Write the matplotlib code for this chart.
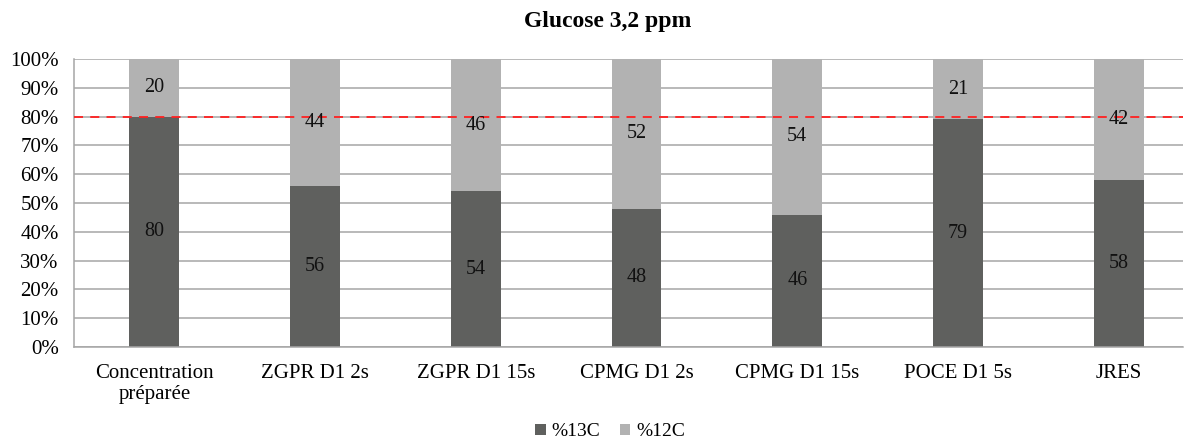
import matplotlib
matplotlib.use("Agg")
import matplotlib.pyplot as plt
import numpy as np

categories = ["Concentration\npréparée", "ZGPR D1 2s", "ZGPR D1 15s", "CPMG D1 2s",
              "CPMG D1 15s", "POCE D1 5s", "JRES"]
pct13C = [80, 56, 54, 48, 46, 79, 58]
pct12C = [20, 44, 46, 52, 54, 21, 42]
ref_line = 80

plt.rcParams['font.family'] = ['Liberation Serif', 'DejaVu Serif']

fig = plt.figure(figsize=(11.87, 4.42), dpi=100)
W, H = 1187, 442
left, right, top, bottom = 74, 1183, 59, 347
ax = fig.add_axes([left / W, 1 - bottom / H, (right - left) / W, (bottom - top) / H])

x = np.arange(len(categories))
c13 = "#5f605e"
c12 = "#b2b2b2"
bw = 0.31
ax.bar(x, pct13C, width=bw, color=c13, label="%13C", zorder=2)
ax.bar(x, pct12C, width=bw, bottom=pct13C, color=c12, label="%12C", zorder=2)

for xi, a, b in zip(x, pct13C, pct12C):
    ax.text(xi, a / 2, str(a), ha="center", va="center", fontsize=14.5, color="#111111", zorder=4)
    ax.text(xi, a + b / 2, str(b), ha="center", va="center", fontsize=14.5, color="#111111", zorder=4)

ax.axhline(ref_line, color="#ff2020", linestyle=(0, (5, 4)), linewidth=1.3, zorder=3)

ax.set_ylim(0, 100)
ax.set_xlim(-0.5, 6.4)
ax.set_yticks(np.arange(0, 101, 10))
ax.set_yticklabels([f"{v}%" for v in range(0, 101, 10)], fontsize=15)
ax.yaxis.grid(True, color="#a6a6a6", linewidth=1.1, zorder=0)
ax.set_axisbelow(True)
ax.set_xticks(x)
ax.set_xticklabels(categories, fontsize=15, linespacing=1.2)
ax.tick_params(axis="both", length=0)
ax.tick_params(axis="x", pad=12)
ax.tick_params(axis="y", pad=11)
for s in ["top", "right"]:
    ax.spines[s].set_visible(False)
ax.spines["left"].set_color("#a6a6a6")
ax.spines["bottom"].set_color("#a6a6a6")
ax.spines["left"].set_linewidth(1.1)
ax.spines["bottom"].set_linewidth(1.1)

fig.text(608 / W, 1 - 22 / H, "Glucose 3,2 ppm", ha="center", va="center",
         fontsize=17, fontweight="bold")

fig.legend(loc="center", bbox_to_anchor=(610 / W, 1 - 432 / H), ncol=2, frameon=False,
           fontsize=14, handlelength=0.55, handleheight=0.55, handletextpad=0.3,
           columnspacing=1.0)

fig.savefig("out.png", dpi=100)
